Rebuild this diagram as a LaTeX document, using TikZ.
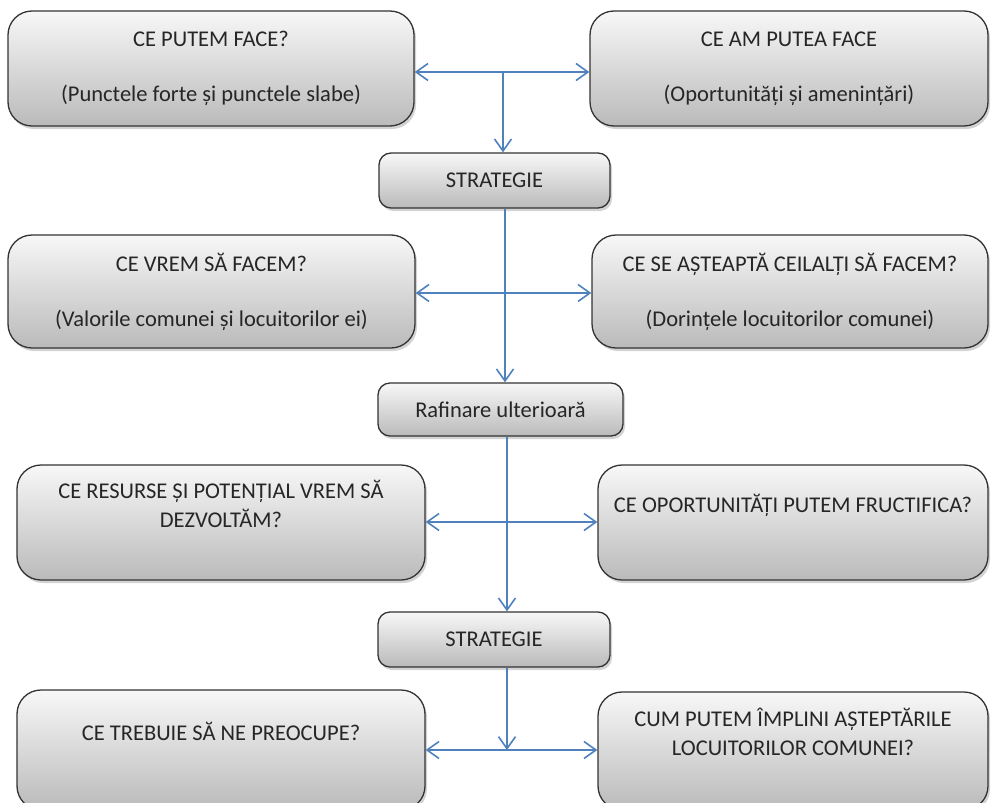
\documentclass[tikz,border=0pt]{standalone}
\usepackage{fontspec}
\setmainfont{Carlito}
\usetikzlibrary{arrows.meta,shadows}
\definecolor{arrowblue}{HTML}{4F81BD}
\begin{document}
\begin{tikzpicture}[x=1pt, y=-1pt,
    bigbox/.style={draw=black!80, line width=1.3pt, rounded corners=24pt,
        top color=black!3, bottom color=black!27,
        drop shadow={shadow xshift=2pt, shadow yshift=-3pt, opacity=0.35},
        align=center, text=black!85, font=\fontsize{22.5}{29}\selectfont,
        inner sep=0pt, minimum height=115pt},
    smallbox/.style={bigbox, rounded corners=12pt, minimum height=55pt},
    link/.style={arrowblue, line width=1.6pt},
    tip/.style={-{Straight Barb[length=12pt, width=17pt]}},
    both/.style={{Straight Barb[length=12pt, width=17pt]}-{Straight Barb[length=12pt, width=17pt]}}
]
    \useasboundingbox (0,0) rectangle (991,803);

    % Row 1
    \node[bigbox, minimum width=406pt] (putem) at (211,68.5)
        {CE PUTEM FACE?\\[26pt](Punctele forte și punctele slabe)};
    \node[bigbox, minimum width=398pt] (amputea) at (789,68.5)
        {CE AM PUTEA FACE\\[26pt](Oportunități și amenințări)};
    \node[smallbox, minimum width=231pt] (strat1) at (494.5,180.5) {STRATEGIE};

    % Row 2
    \node[bigbox, minimum width=407pt, minimum height=113pt] (vrem) at (211.5,291.5)
        {CE VREM SĂ FACEM?\\[26pt](Valorile comunei și locuitorilor ei)};
    \node[bigbox, minimum width=396pt, minimum height=113pt] (asteapta) at (790,291.5)
        {CE SE AȘTEAPTĂ CEILALȚI SĂ FACEM?\\[26pt](Dorințele locuitorilor comunei)};
    \node[smallbox, minimum width=245pt, minimum height=53pt] (rafin) at (500.5,409.5)
        {Rafinare ulterioară};

    % Row 3
    \node[bigbox, minimum width=408pt] (resurse) at (221,522.5)
        {CE RESURSE ȘI POTENȚIAL VREM SĂ\\DEZVOLTĂM?\\\strut};
    \node[bigbox, minimum width=390pt] (oport) at (793,522.5)
        {CE OPORTUNITĂȚI PUTEM FRUCTIFICA?\\\strut};
    \node[smallbox, minimum width=232pt] (strat2) at (494,639.5) {STRATEGIE};

    % Row 4
    \node[bigbox, minimum width=408pt, minimum height=120pt] (preocupe) at (221,750)
        {CE TREBUIE SĂ NE PREOCUPE?\\\strut};
    \node[bigbox, minimum width=390pt, minimum height=118pt] (implini) at (793,751)
        {CUM PUTEM ÎMPLINI AȘTEPTĂRILE\\LOCUITORILOR COMUNEI?\\\strut};

    % Connectors
    \coordinate (j1) at (503,72);
    \coordinate (j2) at (505,293);
    \coordinate (j3) at (507,522);
    \coordinate (j4) at (507,750);
    \draw[link, both] (putem.east |- j1) -- (amputea.west |- j1);
    \draw[link, tip] (j1) -- (j1 |- strat1.north);
    \draw[link, both] (vrem.east |- j2) -- (asteapta.west |- j2);
    \draw[link, tip] (j2 |- strat1.south) -- (j2 |- rafin.north);
    \draw[link, both] (resurse.east |- j3) -- (oport.west |- j3);
    \draw[link, tip] (j3 |- rafin.south) -- (j3 |- strat2.north);
    \draw[link, both] (preocupe.east |- j4) -- (implini.west |- j4);
    \draw[link, tip] (j4 |- strat2.south) -- (j4);
\end{tikzpicture}
\end{document}
